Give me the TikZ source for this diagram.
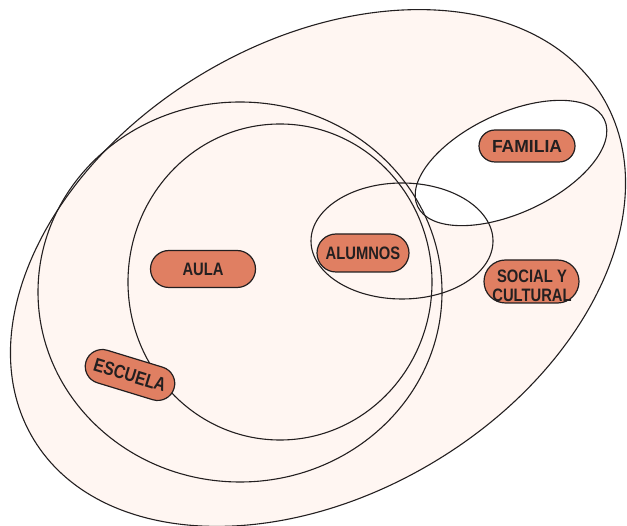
\documentclass[tikz,border=0pt]{standalone}
\usepackage{fontspec}
\usepackage{tikz}
\usetikzlibrary{shapes.misc}
\newfontfamily\tagfont{Liberation Sans}[FakeStretch=0.82]
\newfontfamily\famfont{Liberation Sans}
\definecolor{salmon}{HTML}{E07F62}
\definecolor{blush}{HTML}{FFF6F2}
\definecolor{ink}{HTML}{231F20}

\tikzset{
    ring/.style={draw=ink, line width=1.1pt},
    pill/.style={draw=ink, line width=1.2pt, fill=salmon, rounded rectangle, inner sep=0pt,
        font=\tagfont\bfseries\fontsize{18}{19}\selectfont, text=ink}
}

\begin{document}
\begin{tikzpicture}[x=1pt, y=-1pt]
    \useasboundingbox (0,0) rectangle (627,526);

    % Big surrounding context (social y cultural)
    \filldraw[ring, fill=blush, rotate around={31:(318,268)}] (318,268) ellipse [x radius=332pt, y radius=226pt];

    % Family ring, white inside
    \filldraw[ring, fill=white, rotate around={24.8:(511,163)}] (511,163) ellipse [x radius=103pt, y radius=50pt];

    % School, classroom and pupils
    \draw[ring] (240,292) ellipse [x radius=202pt, y radius=190pt];
    \draw[ring] (280,282) ellipse [x radius=152pt, y radius=158pt];
    \draw[ring] (402,241) ellipse [x radius=91pt, y radius=58pt];

    % Labels
    \node (aula) [pill, minimum width=105pt, minimum height=37pt] at (203,269) {AULA};
    \node (alumnos) [pill, minimum width=92pt, minimum height=38pt] at (363,253) {ALUMNOS};
    \node (familia) [pill, minimum width=96pt, minimum height=32pt,
        font=\famfont\bfseries\fontsize{17.5}{20}\selectfont] at (527,146) {FAMILIA};
    \node (escuela) [pill, minimum width=92pt, minimum height=34pt, rotate=-17,
        font=\tagfont\bfseries\fontsize{19}{20}\selectfont] at (130,375) {ESCUELA};
    \node (social) [pill, minimum width=95pt, minimum height=43pt] at (531.5,281.5) {};
    \node (socialtxt) [font=\tagfont\bfseries\fontsize{18}{19}\selectfont, text=ink,
        align=center, inner sep=0pt, anchor=base] at (532,302) {SOCIAL Y\\CULTURAL};
\end{tikzpicture}
\end{document}
